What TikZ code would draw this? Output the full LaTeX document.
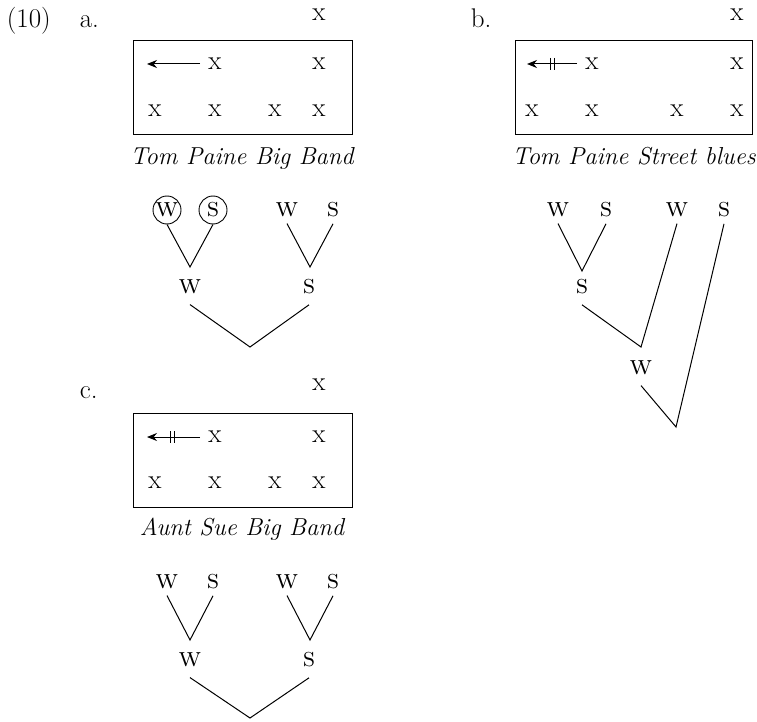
\documentclass[tikz,border=0pt]{standalone}
\usetikzlibrary{arrows.meta}
\begin{document}
\begin{tikzpicture}[x=1pt,y=-1pt,line width=1pt,
  every node/.style={font=\fontsize{27}{31}\selectfont},
  gx/.style={inner sep=0pt},
  leaf/.style={inner sep=6pt},
  cleaf/.style={circle,draw,line width=0.9pt,inner sep=0pt,minimum size=28pt},
  par/.style={inner sep=10pt},
  captxt/.style={font=\fontsize{24.5}{28}\selectfont\itshape,anchor=base},
  lab/.style={anchor=base west},
  gridbox/.style={draw,line width=1pt},
  mv/.style={-{Stealth[length=10pt,width=8pt]}}]
\useasboundingbox (0,0) rectangle (757,722);
% labels
\node[lab] (num) at (3,28) {(10)};
\node[lab] (la) at (76,28) {a.};
\node[lab] (lb) at (467,28) {b.};
\node[lab] (lc) at (76,398) {c.};
% ---- a grid
\node[gx] (at) at (319,15) {x};
\draw[gridbox] (133,41) rectangle (352,135);
\node[gx] (a12) at (215,64) {x};
\node[gx] (a14) at (319,64) {x};
\node[gx] (a21) at (155,111) {x};
\node[gx] (a22) at (215,111) {x};
\node[gx] (a23) at (275,111) {x};
\node[gx] (a24) at (319,111) {x};
\coordinate (aA0) at (200,64);
\coordinate (aA1) at (147,64);
\draw[mv] (aA0) -- (aA1);
\node[captxt] (capa) at (242,165) {Tom Paine Big Band};
% ---- a tree
\node[cleaf] (aw1) at (167,210) {\textsc{w}};
\node[cleaf] (as1) at (213,210) {\textsc{s}};
\node[leaf] (aw2) at (287,210) {\textsc{w}};
\node[leaf] (as2) at (333,210) {\textsc{s}};
\coordinate (ap1) at (190,267);
\coordinate (ap2) at (310,267);
\node[par] (aw) at (190,287) {\textsc{w}};
\node[par] (as) at (309,287) {\textsc{s}};
\coordinate (ap3) at (250,347);
\draw (aw1.south) -- (ap1) -- (as1.south);
\draw (aw2.south) -- (ap2) -- (as2.south);
\draw (aw.south) -- (ap3) -- (as.south);
% ---- b grid
\node[gx] (bt) at (737,15) {x};
\draw[gridbox] (515,41) rectangle (752,135);
\node[gx] (b12) at (592,64) {x};
\node[gx] (b14) at (737,64) {x};
\node[gx] (b21) at (532,111) {x};
\node[gx] (b22) at (592,111) {x};
\node[gx] (b23) at (677,111) {x};
\node[gx] (b24) at (737,111) {x};
\coordinate (bA0) at (577,64);
\coordinate (bA1) at (527,64);
\draw[mv] (bA0) -- (bA1);
\draw (550,58) -- (550,70) (554,58) -- (554,70);
\node[captxt] (capb) at (634,165) {Tom Paine Street blues};
% ---- b tree
\node[leaf] (bw1) at (558,210) {\textsc{w}};
\node[leaf] (bs1) at (606,210) {\textsc{s}};
\node[leaf] (bw2) at (677,210) {\textsc{w}};
\node[leaf] (bs2) at (724,210) {\textsc{s}};
\coordinate (bp1) at (582,271);
\node[par] (bs) at (582,287) {\textsc{s}};
\coordinate (bp2) at (641,347);
\node[par] (bw) at (641,368) {\textsc{w}};
\coordinate (bp3) at (676,427);
\draw (bw1.south) -- (bp1) -- (bs1.south);
\draw (bs.south) -- (bp2) -- (bw2.south);
\draw (bw.south) -- (bp3) -- (bs2.south);
% ---- c grid
\node[gx] (ct) at (319,385) {x};
\draw[gridbox] (133,413) rectangle (352,507);
\node[gx] (c12) at (215,437) {x};
\node[gx] (c14) at (319,437) {x};
\node[gx] (c21) at (155,483) {x};
\node[gx] (c22) at (215,483) {x};
\node[gx] (c23) at (275,483) {x};
\node[gx] (c24) at (319,483) {x};
\coordinate (cA0) at (200,437);
\coordinate (cA1) at (147,437);
\draw[mv] (cA0) -- (cA1);
\draw (170,431) -- (170,443) (174,431) -- (174,443);
\node[captxt] (capc) at (242,535) {Aunt Sue Big Band};
% ---- c tree
\node[leaf] (cw1) at (167,582) {\textsc{w}};
\node[leaf] (cs1) at (213,582) {\textsc{s}};
\node[leaf] (cw2) at (287,582) {\textsc{w}};
\node[leaf] (cs2) at (333,582) {\textsc{s}};
\coordinate (cp1) at (190,640);
\coordinate (cp2) at (310,640);
\node[par] (cw) at (190,660) {\textsc{w}};
\node[par] (cs) at (309,660) {\textsc{s}};
\coordinate (cp3) at (250,718);
\draw (cw1.south) -- (cp1) -- (cs1.south);
\draw (cw2.south) -- (cp2) -- (cs2.south);
\draw (cw.south) -- (cp3) -- (cs.south);
\end{tikzpicture}
\end{document}
